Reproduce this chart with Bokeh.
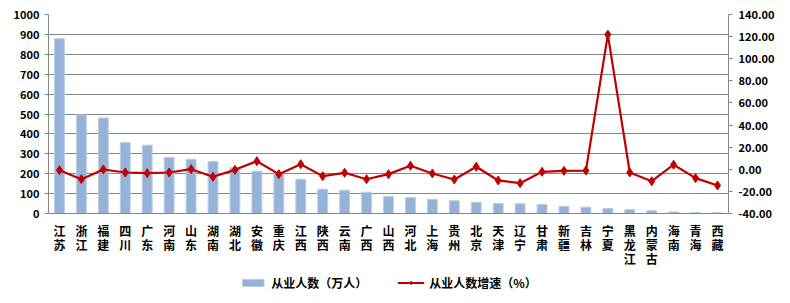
from bokeh.plotting import figure
from bokeh.layouts import column
from bokeh.models import (FactorRange, Range1d, LinearAxis, CategoricalAxis, SingleIntervalTicker,
                          NumeralTickFormatter, Legend, LegendItem, ColumnDataSource)
from bokeh.embed import file_html
from bokeh.resources import INLINE

provinces = ["江苏", "浙江", "福建", "四川", "广东", "河南", "山东", "湖南", "湖北", "安徽",
             "重庆", "江西", "陕西", "云南", "广西", "山西", "河北", "上海", "贵州", "北京",
             "天津", "辽宁", "甘肃", "新疆", "吉林", "宁夏", "黑龙江", "内蒙古", "海南", "青海", "西藏"]
employees = [878, 495, 480, 356, 343, 282, 272, 261, 230, 212,
             199, 172, 122, 117, 107, 86, 80, 71, 64, 57,
             50, 49, 45, 36, 32, 25, 20, 14, 8, 5, 4]
growth = [-0.8, -9.0, -0.2, -2.9, -3.5, -2.9, 0.1, -6.8, -0.5, 7.3,
          -4.4, 4.6, -6.2, -3.2, -9.0, -4.4, 3.2, -3.8, -9.2, 2.3,
          -10.1, -12.6, -2.3, -1.4, -1.2, 121.8, -2.9, -10.8, 4.1, -8.0, -14.6]
series_names = ["从业人数（万人）", "从业人数增速（%）"]

src = ColumnDataSource(dict(x=provinces, emp=employees, gr=growth))

FONT = "Noto Sans CJK SC"
GRAY = "#868686"
BAR_FILL = "#95B3D7"
BAR_LINE = "#B9CDE5"
RED = "#C00000"

p = figure(x_range=FactorRange(factors=provinces, range_padding=0),
           y_range=Range1d(0, 1000), width=790, height=272,
           output_backend="svg", toolbar_location=None, x_axis_location=None,
           min_border_left=48, min_border_right=62, min_border_top=14, min_border_bottom=59)
p.extra_y_ranges = {"pct": Range1d(-40, 140)}

# one categorical range per character row (zero-width spaces keep factors unique)
ZW = "\u200b"
for row in range(3):
    p.extra_x_ranges["row%d" % row] = FactorRange(
        factors=[(n[row] if row < len(n) else "") + ZW * i for i, n in enumerate(provinces)],
        range_padding=0)

p.outline_line_color = None
p.background_fill_color = "white"
p.border_fill_color = "white"

p.vbar(x="x", top="emp", width=0.45, source=src, fill_color=BAR_FILL,
       line_color=BAR_LINE, line_width=1)
p.line(x="x", y="gr", source=src, y_range_name="pct", line_color=RED, line_width=2.2)
p.scatter(x="x", y="gr", source=src, y_range_name="pct", marker="diamond", size=9,
          fill_color=RED, line_color=RED)

def style_y(ax):
    ax.axis_line_color = GRAY
    ax.major_tick_line_color = GRAY
    ax.major_tick_out = 4
    ax.major_tick_in = 0
    ax.minor_tick_line_color = None
    ax.major_label_text_font = FONT
    ax.major_label_text_font_style = "bold"
    ax.major_label_text_font_size = "11px"
    ax.major_label_text_color = "#000000"

ya = p.yaxis[0]
ya.ticker = SingleIntervalTicker(interval=100, num_minor_ticks=0)
style_y(ya)
ya.major_label_standoff = 5

ra = LinearAxis(y_range_name="pct", ticker=SingleIntervalTicker(interval=20, num_minor_ticks=0),
                formatter=NumeralTickFormatter(format="0.00"))
style_y(ra)
ra.major_label_standoff = 6
p.add_layout(ra, "right")

for row in range(3):
    ax = CategoricalAxis(x_range_name="row%d" % row)
    ax.axis_line_color = GRAY if row == 0 else None
    ax.major_tick_line_color = None
    ax.minor_tick_line_color = None
    ax.major_tick_out = 0
    ax.major_tick_in = 0
    ax.major_label_text_font = FONT
    ax.major_label_text_font_style = "bold"
    ax.major_label_text_font_size = "12px"
    ax.major_label_text_color = "#000000"
    ax.major_label_standoff = 8 if row == 0 else -6
    p.add_layout(ax, "below")

p.xgrid.grid_line_color = None
p.ygrid.grid_line_color = GRAY
p.ygrid.grid_line_width = 1
p.ygrid.ticker = ya.ticker

# legend strip below the chart (its glyphs sit outside its visible range)
lg = figure(width=790, height=31, output_backend="svg", toolbar_location=None,
            x_axis_location=None, y_axis_location=None, min_border=0,
            x_range=FactorRange(factors=provinces), y_range=Range1d(5000, 6000))
lg.extra_y_ranges = {"pct": Range1d(5000, 6000)}
lg.outline_line_color = None
lg.grid.grid_line_color = None
lb = lg.vbar(x="x", top="emp", width=0.45, source=src, fill_color=BAR_FILL, line_color=BAR_LINE)
ll = lg.line(x="x", y="gr", source=src, line_color=RED, line_width=2.2)
lp = lg.scatter(x="x", y="gr", source=src, marker="diamond", size=9, fill_color=RED, line_color=RED)
legend = Legend(items=[LegendItem(label=series_names[0], renderers=[lb]),
                       LegendItem(label=series_names[1], renderers=[ll, lp])],
                orientation="horizontal", location="top_center",
                label_text_font=FONT, label_text_font_style="bold", label_text_font_size="12px",
                label_text_color="#000000", border_line_color=None, background_fill_alpha=0,
                spacing=30, glyph_width=27, glyph_height=9, label_standoff=5, padding=2, margin=2)
lg.add_layout(legend, "center")

open("out.html", "w").write(file_html(column(p, lg, spacing=0), INLINE))
